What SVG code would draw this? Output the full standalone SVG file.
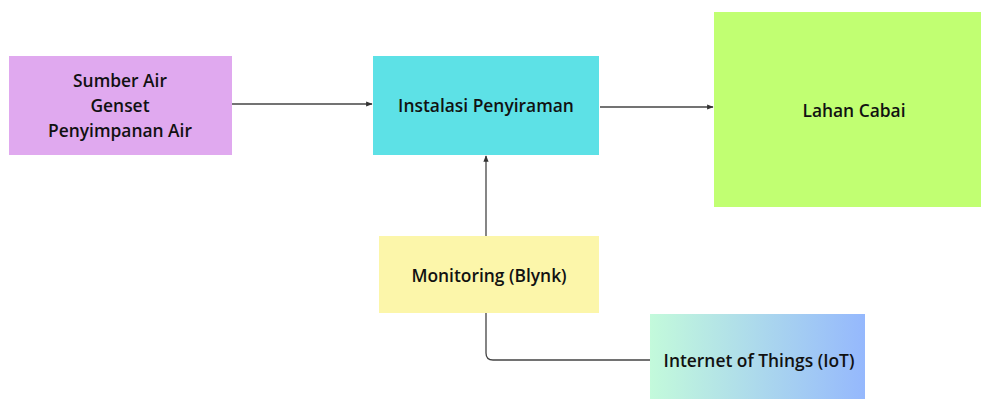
<svg xmlns="http://www.w3.org/2000/svg" width="981" height="399" viewBox="0 0 981 399">
  <defs>
    <marker id="arrow" viewBox="0 0 10 10" refX="9" refY="5" markerWidth="5" markerHeight="5" orient="auto">
      <path d="M0,1 L10,5 L0,9 z" fill="#333"/>
    </marker>
    <linearGradient id="iotGrad" x1="0" y1="0" x2="1" y2="0">
      <stop offset="0" stop-color="#c3fadb"/>
      <stop offset="1" stop-color="#95b8fd"/>
    </linearGradient>
    <style>
      .label { font-family: "Open Sans", "Liberation Sans", sans-serif; font-weight: 600; font-size: 17.4px; fill: #111; text-anchor: middle; dominant-baseline: central; }
      .link { fill: none; stroke: #444; stroke-width: 1.3; }
    </style>
  </defs>
  <rect width="981" height="399" fill="#ffffff"/>

  <g id="connectors">
    <path class="link" d="M232,104 H372" marker-end="url(#arrow)"/>
    <path class="link" d="M600,107 H713" marker-end="url(#arrow)"/>
    <path class="link" d="M486,236 V156" marker-end="url(#arrow)"/>
    <path class="link" d="M650,360 H493 Q486,360 486,353 V313"/>
  </g>

  <g id="sumber">
    <rect x="9" y="56" width="223" height="99" fill="#e0a9ef"/>
    <text class="label" x="120" y="80">Sumber Air</text>
    <text class="label" x="120" y="105">Genset</text>
    <text class="label" x="120" y="130">Penyimpanan Air</text>
  </g>

  <g id="instalasi">
    <rect x="373" y="56" width="226" height="99" fill="#5de1e6"/>
    <text class="label" x="486" y="105">Instalasi Penyiraman</text>
  </g>

  <g id="lahan">
    <rect x="714" y="12" width="267" height="195" fill="#c1ff72"/>
    <text class="label" x="854" y="110">Lahan Cabai</text>
  </g>

  <g id="monitoring">
    <rect x="379" y="236" width="220" height="77" fill="#fcf6aa"/>
    <text class="label" x="489" y="275">Monitoring (Blynk)</text>
  </g>

  <g id="iot">
    <rect x="650" y="314" width="215" height="85" fill="url(#iotGrad)"/>
    <text class="label" x="759" y="360">Internet of Things (IoT)</text>
  </g>
</svg>
